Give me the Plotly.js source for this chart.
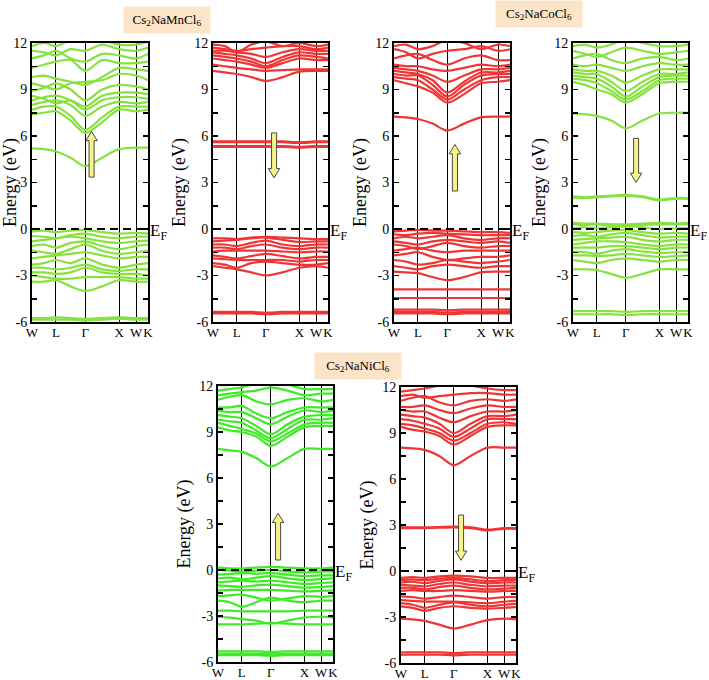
<!DOCTYPE html>
<html>
<head>
<meta charset="utf-8">
<script src="https://cdn.plot.ly/plotly-3.0.1.min.js"></script>
<style>html,body{margin:0;padding:0;background:#fff}#chart{width:709px;height:680px}</style>
</head>
<body>
<div id="chart"></div>
<script>
// k-path positions: W, (W-L), L, (L-Γ), Γ, (Γ-X), X, W, K
const kPos = [0, 0.354, 0.707, 1.14, 1.573, 2.073, 2.573, 3.073, 3.427];
const kTickVals = [0, 0.707, 1.573, 2.573, 3.073, 3.427];
const kTickText = ['W', 'L', 'Γ', 'X', 'W', 'K'];
const energyTickVals = [-6, -3, 0, 3, 6, 9, 12];
const energyTickText = ['-6', '-3', '0', '3', '6', '9', '12'];
const compoundLabels = ['Cs<sub>2</sub>NaMnCl<sub>6</sub>', 'Cs<sub>2</sub>NaCoCl<sub>6</sub>', 'Cs<sub>2</sub>NaNiCl<sub>6</sub>'];

// Cs2NaMnCl6 spin up (green)
const mnUpBands = [
  [5.2, 5.15, 5.0, 4.6, 4.05, 4.6, 5.15, 5.25, 5.25],
  [7.4, 7.5, 7.6, 7.0, 6.2, 6.9, 7.7, 7.6, 7.7],
  [7.7, 7.9, 7.9, 7.3, 6.4, 7.2, 7.9, 7.9, 7.9],
  [8.0, 8.2, 8.3, 8.0, 7.3, 7.9, 8.2, 8.1, 8.2],
  [8.3, 8.5, 8.6, 8.3, 7.7, 8.3, 8.5, 8.5, 8.4],
  [8.6, 8.4, 8.1, 8.3, 7.9, 8.6, 8.8, 8.8, 8.7],
  [8.9, 9.1, 9.4, 9.0, 8.3, 9.0, 9.3, 9.2, 9.0],
  [9.4, 9.2, 9.0, 9.4, 9.5, 9.6, 10.0, 9.9, 9.6],
  [9.8, 9.9, 9.7, 9.5, 9.3, 9.8, 10.4, 10.3, 10.2],
  [10.4, 10.6, 10.8, 10.9, 10.2, 10.9, 10.7, 10.7, 10.8],
  [11.0, 11.2, 11.5, 11.0, 10.8, 11.3, 11.2, 11.0, 11.3],
  [11.5, 11.4, 11.2, 11.6, 11.5, 11.9, 11.6, 11.5, 11.7],
  [11.8, 12.0, 11.8, 12.2, 12.3, 12.2, 11.9, 11.9, 12.1],
  [-0.15, -0.1, -0.2, -0.1, -0.05, -0.2, -0.3, -0.25, -0.3],
  [-0.45, -0.5, -0.6, -0.4, -0.3, -0.5, -0.6, -0.5, -0.5],
  [-0.8, -0.7, -0.6, -0.5, -0.6, -0.8, -0.9, -0.8, -0.75],
  [-1.1, -1.0, -1.2, -0.9, -0.8, -1.1, -1.3, -1.1, -1.0],
  [-1.4, -1.5, -1.6, -1.3, -1.0, -1.4, -1.6, -1.5, -1.4],
  [-1.9, -1.8, -1.7, -1.6, -1.5, -1.7, -1.9, -1.8, -1.8],
  [-2.3, -2.2, -2.0, -2.2, -1.9, -2.3, -2.5, -2.3, -2.2],
  [-2.5, -2.5, -2.6, -2.5, -2.3, -2.6, -2.7, -2.6, -2.6],
  [-2.8, -2.8, -2.9, -2.8, -2.5, -2.8, -2.9, -2.9, -3.0],
  [-3.0, -3.1, -3.2, -3.2, -3.1, -3.1, -3.1, -3.2, -3.2],
  [-3.4, -3.4, -3.3, -3.7, -4.0, -3.7, -3.3, -3.4, -3.4],
  [-5.75, -5.75, -5.7, -5.75, -5.8, -5.75, -5.7, -5.75, -5.75],
  [-5.85, -5.85, -5.85, -5.85, -5.9, -5.85, -5.8, -5.85, -5.85]
];

// Cs2NaMnCl6 spin down (red)
const mnDnBands = [
  [10.2, 10.1, 10.0, 9.8, 9.55, 9.8, 10.15, 10.2, 10.2],
  [10.6, 10.5, 10.4, 10.3, 10.2, 10.25, 10.3, 10.3, 10.3],
  [11.0, 10.9, 10.8, 10.6, 10.4, 10.7, 11.0, 10.9, 10.9],
  [11.2, 11.1, 11.0, 10.8, 10.5, 10.9, 11.2, 11.1, 11.0],
  [11.4, 11.3, 11.2, 11.0, 10.7, 11.1, 11.4, 11.3, 11.3],
  [11.5, 11.5, 11.4, 11.3, 11.1, 11.4, 11.6, 11.5, 11.5],
  [11.7, 11.6, 11.5, 11.6, 11.7, 11.8, 11.8, 11.6, 11.7],
  [11.9, 11.8, 11.4, 11.9, 12.1, 11.8, 12.0, 11.8, 11.9],
  [5.65, 5.65, 5.65, 5.65, 5.65, 5.65, 5.6, 5.65, 5.65],
  [5.6, 5.6, 5.6, 5.6, 5.6, 5.6, 5.55, 5.6, 5.6],
  [5.35, 5.35, 5.35, 5.35, 5.35, 5.35, 5.3, 5.35, 5.35],
  [5.3, 5.3, 5.3, 5.3, 5.3, 5.3, 5.25, 5.3, 5.3],
  [-0.6, -0.6, -0.65, -0.55, -0.5, -0.55, -0.6, -0.65, -0.65],
  [-0.8, -0.75, -0.7, -0.6, -0.55, -0.7, -0.85, -0.8, -0.8],
  [-1.0, -1.0, -1.1, -0.9, -0.75, -1.0, -1.1, -1.0, -1.0],
  [-1.2, -1.2, -1.3, -1.1, -1.0, -1.2, -1.3, -1.2, -1.2],
  [-1.45, -1.4, -1.4, -1.4, -1.4, -1.45, -1.5, -1.45, -1.45],
  [-1.7, -1.8, -1.9, -1.75, -1.6, -1.75, -1.9, -1.8, -1.8],
  [-1.9, -1.95, -2.0, -2.0, -2.0, -2.0, -2.1, -2.0, -2.0],
  [-2.2, -2.3, -2.5, -2.2, -2.1, -2.2, -2.3, -2.3, -2.2],
  [-2.4, -2.5, -2.6, -2.8, -3.0, -2.8, -2.5, -2.4, -2.5],
  [-5.35, -5.35, -5.35, -5.35, -5.4, -5.35, -5.35, -5.35, -5.35],
  [-5.45, -5.45, -5.45, -5.45, -5.5, -5.45, -5.45, -5.45, -5.45]
];

// Cs2NaCoCl6 spin up (red)
const coUpBands = [
  [7.25, 7.2, 7.1, 6.8, 6.35, 6.8, 7.2, 7.25, 7.25],
  [9.6, 9.4, 9.2, 8.8, 8.15, 8.7, 9.4, 9.5, 9.6],
  [9.8, 9.7, 9.6, 9.0, 8.35, 9.0, 9.6, 9.8, 9.8],
  [10.0, 9.9, 9.9, 9.3, 8.55, 9.3, 9.9, 10.0, 10.0],
  [10.2, 10.1, 10.0, 9.6, 8.8, 9.5, 10.1, 10.1, 10.2],
  [10.4, 10.3, 10.2, 9.9, 9.5, 9.9, 10.3, 10.3, 10.4],
  [10.6, 10.5, 10.5, 10.3, 10.2, 10.4, 10.6, 10.5, 10.6],
  [11.0, 11.2, 11.3, 10.9, 10.6, 11.0, 11.2, 10.9, 10.9],
  [11.6, 11.4, 11.0, 11.3, 11.5, 11.6, 11.8, 11.5, 11.6],
  [11.8, 11.9, 11.6, 11.8, 12.2, 12.0, 11.6, 11.9, 11.8],
  [-0.15, -0.1, -0.05, -0.1, -0.1, -0.15, -0.2, -0.2, -0.25],
  [-0.35, -0.4, -0.3, -0.25, -0.3, -0.35, -0.4, -0.4, -0.4],
  [-0.6, -0.5, -0.6, -0.5, -0.4, -0.6, -0.7, -0.6, -0.6],
  [-0.8, -0.9, -1.0, -0.8, -0.7, -0.8, -0.9, -0.8, -0.9],
  [-1.0, -1.1, -1.3, -1.1, -0.9, -1.1, -1.2, -1.1, -1.1],
  [-1.4, -1.3, -1.2, -1.4, -1.5, -1.4, -1.4, -1.4, -1.4],
  [-1.7, -1.6, -1.5, -1.8, -2.0, -1.9, -1.8, -1.8, -1.7],
  [-2.0, -2.1, -2.3, -2.2, -2.0, -2.1, -2.2, -2.1, -2.0],
  [-2.4, -2.5, -2.6, -2.4, -2.3, -2.4, -2.5, -2.4, -2.4],
  [-2.75, -2.8, -2.85, -3.1, -3.3, -3.1, -2.8, -2.75, -2.75],
  [-3.9, -3.9, -3.9, -3.9, -3.9, -3.9, -3.9, -3.9, -3.9],
  [-4.45, -4.45, -4.45, -4.45, -4.45, -4.45, -4.45, -4.45, -4.45],
  [-5.2, -5.2, -5.2, -5.2, -5.25, -5.2, -5.2, -5.2, -5.2],
  [-5.35, -5.35, -5.35, -5.35, -5.4, -5.35, -5.35, -5.35, -5.35],
  [-5.45, -5.45, -5.45, -5.45, -5.5, -5.45, -5.45, -5.45, -5.45]
];

// Cs2NaCoCl6 spin down (green)
const coDnBands = [
  [7.45, 7.4, 7.3, 7.0, 6.5, 7.0, 7.45, 7.5, 7.5],
  [9.5, 9.3, 9.0, 8.7, 8.15, 8.7, 9.4, 9.5, 9.5],
  [9.7, 9.6, 9.4, 8.9, 8.35, 8.9, 9.6, 9.7, 9.7],
  [9.9, 9.8, 9.7, 9.2, 8.55, 9.2, 9.8, 9.9, 9.9],
  [10.1, 10.0, 10.0, 9.5, 8.9, 9.5, 10.0, 10.0, 10.1],
  [10.3, 10.2, 10.2, 9.9, 9.45, 9.9, 10.3, 10.3, 10.3],
  [10.6, 10.5, 10.6, 10.4, 10.2, 10.5, 10.7, 10.6, 10.6],
  [11.0, 11.2, 11.3, 10.9, 10.7, 11.0, 11.1, 10.9, 11.0],
  [11.5, 11.3, 11.1, 11.4, 11.7, 11.5, 11.3, 11.4, 11.5],
  [11.8, 11.9, 11.7, 11.9, 12.3, 12.0, 11.8, 11.8, 11.9],
  [2.1, 2.05, 2.1, 2.15, 2.2, 2.1, 1.9, 2.0, 2.0],
  [2.0, 2.0, 2.05, 2.1, 2.15, 2.05, 1.85, 1.95, 1.95],
  [0.4, 0.35, 0.35, 0.3, 0.3, 0.35, 0.4, 0.35, 0.4],
  [0.3, 0.25, 0.3, 0.2, 0.15, 0.25, 0.3, 0.3, 0.3],
  [0.05, 0.1, 0.05, 0.1, 0.2, 0.1, 0.0, 0.05, 0.05],
  [-0.2, -0.25, -0.2, -0.1, -0.05, -0.2, -0.3, -0.25, -0.3],
  [-0.45, -0.4, -0.5, -0.35, -0.25, -0.4, -0.55, -0.5, -0.5],
  [-0.7, -0.65, -0.6, -0.55, -0.5, -0.7, -0.8, -0.7, -0.7],
  [-1.0, -0.9, -0.8, -0.8, -0.85, -1.0, -1.1, -1.0, -1.0],
  [-1.2, -1.2, -1.2, -1.1, -1.1, -1.2, -1.3, -1.2, -1.2],
  [-1.45, -1.5, -1.6, -1.4, -1.3, -1.45, -1.55, -1.5, -1.45],
  [-1.7, -1.7, -1.75, -1.7, -1.6, -1.7, -1.8, -1.75, -1.7],
  [-2.0, -2.1, -2.2, -2.0, -1.9, -2.0, -2.1, -2.0, -2.0],
  [-2.6, -2.6, -2.65, -2.9, -3.15, -2.9, -2.6, -2.6, -2.6],
  [-5.3, -5.3, -5.3, -5.3, -5.35, -5.3, -5.3, -5.3, -5.3],
  [-5.5, -5.5, -5.5, -5.5, -5.55, -5.5, -5.5, -5.5, -5.5]
];

// Cs2NaNiCl6 spin up (green)
const niUpBands = [
  [7.9, 7.8, 7.7, 7.3, 6.75, 7.3, 7.9, 7.9, 7.9],
  [9.3, 9.1, 9.0, 8.7, 8.1, 8.7, 9.3, 9.4, 9.4],
  [9.6, 9.4, 9.2, 8.9, 8.4, 8.9, 9.5, 9.6, 9.6],
  [9.8, 9.7, 9.6, 9.1, 8.6, 9.2, 9.8, 9.8, 9.9],
  [10.1, 10.0, 9.9, 9.4, 8.85, 9.5, 10.0, 10.1, 10.1],
  [10.4, 10.3, 10.3, 9.9, 9.5, 10.0, 10.4, 10.3, 10.4],
  [10.6, 10.6, 10.7, 10.2, 9.9, 10.3, 10.6, 10.6, 10.6],
  [11.1, 11.3, 11.4, 11.0, 10.8, 11.1, 11.2, 11.0, 11.1],
  [11.4, 11.5, 11.6, 11.7, 11.9, 11.7, 11.4, 11.5, 11.5],
  [11.7, 11.8, 11.9, 12.2, 12.4, 12.1, 11.8, 11.8, 11.8],
  [0.15, 0.1, 0.1, 0.15, 0.2, 0.15, 0.1, 0.1, 0.15],
  [0.0, -0.05, -0.1, -0.05, 0.0, -0.1, -0.15, -0.1, -0.1],
  [-0.3, -0.25, -0.2, -0.25, -0.2, -0.3, -0.4, -0.35, -0.35],
  [-0.55, -0.5, -0.6, -0.5, -0.4, -0.55, -0.65, -0.6, -0.55],
  [-0.8, -0.75, -0.7, -0.75, -0.7, -0.8, -0.9, -0.85, -0.8],
  [-1.0, -1.05, -1.1, -1.0, -0.95, -1.05, -1.15, -1.1, -1.05],
  [-1.35, -1.3, -1.3, -1.3, -1.3, -1.35, -1.4, -1.35, -1.35],
  [-1.7, -1.65, -1.6, -1.8, -2.0, -1.85, -1.7, -1.75, -1.7],
  [-2.0, -2.1, -2.4, -2.1, -1.8, -2.0, -2.1, -2.0, -2.0],
  [-2.65, -2.65, -2.7, -2.7, -2.7, -2.7, -2.65, -2.65, -2.65],
  [-3.05, -3.1, -3.2, -3.3, -3.5, -3.3, -3.1, -3.05, -3.1],
  [-3.55, -3.55, -3.55, -3.5, -3.45, -3.5, -3.55, -3.55, -3.55],
  [-5.3, -5.3, -5.3, -5.3, -5.35, -5.3, -5.3, -5.3, -5.3],
  [-5.45, -5.45, -5.45, -5.45, -5.5, -5.45, -5.45, -5.45, -5.45],
  [-5.55, -5.55, -5.55, -5.55, -5.6, -5.55, -5.55, -5.55, -5.55]
];

// Cs2NaNiCl6 spin down (red)
const niDnBands = [
  [8.05, 8.0, 7.9, 7.5, 6.9, 7.5, 8.05, 8.05, 8.05],
  [9.4, 9.2, 9.1, 8.8, 8.25, 8.8, 9.4, 9.5, 9.5],
  [9.6, 9.5, 9.3, 9.0, 8.5, 9.0, 9.6, 9.7, 9.6],
  [9.9, 9.8, 9.6, 9.3, 8.75, 9.3, 9.9, 9.9, 9.9],
  [10.2, 10.1, 10.0, 9.6, 9.0, 9.6, 10.1, 10.1, 10.2],
  [10.5, 10.4, 10.4, 10.0, 9.7, 10.1, 10.4, 10.4, 10.5],
  [10.7, 10.7, 10.8, 10.5, 10.3, 10.6, 10.8, 10.7, 10.7],
  [11.1, 11.3, 11.4, 11.0, 10.8, 11.1, 11.2, 11.1, 11.2],
  [11.4, 11.5, 11.3, 11.4, 11.5, 11.6, 11.6, 11.5, 11.5],
  [11.7, 11.8, 11.9, 12.1, 12.3, 12.1, 11.9, 11.8, 11.8],
  [2.85, 2.85, 2.85, 2.87, 2.9, 2.85, 2.7, 2.8, 2.8],
  [2.8, 2.8, 2.8, 2.82, 2.85, 2.8, 2.65, 2.75, 2.75],
  [-0.45, -0.4, -0.45, -0.35, -0.3, -0.35, -0.45, -0.45, -0.45],
  [-0.6, -0.55, -0.6, -0.5, -0.45, -0.55, -0.65, -0.6, -0.6],
  [-0.75, -0.7, -0.8, -0.65, -0.55, -0.7, -0.8, -0.75, -0.75],
  [-0.9, -0.95, -1.0, -0.85, -0.75, -0.9, -1.0, -0.95, -0.95],
  [-1.1, -1.1, -1.2, -1.05, -0.95, -1.1, -1.2, -1.15, -1.1],
  [-1.3, -1.25, -1.3, -1.3, -1.25, -1.3, -1.35, -1.3, -1.3],
  [-1.65, -1.7, -1.8, -1.7, -1.6, -1.7, -1.8, -1.7, -1.7],
  [-1.9, -1.95, -2.0, -2.0, -2.0, -2.05, -2.1, -2.0, -1.95],
  [-2.1, -2.2, -2.4, -2.2, -2.05, -2.2, -2.3, -2.2, -2.15],
  [-2.3, -2.4, -2.6, -2.4, -2.3, -2.4, -2.45, -2.4, -2.35],
  [-3.1, -3.15, -3.25, -3.5, -3.75, -3.5, -3.2, -3.1, -3.15],
  [-5.3, -5.3, -5.3, -5.3, -5.35, -5.3, -5.3, -5.3, -5.3],
  [-5.45, -5.45, -5.45, -5.45, -5.5, -5.45, -5.45, -5.45, -5.45]
];

// ---- layout / style (not data) ----
const W = 709, H = 680;
const GREEN_TOP = '#86E23C', GREEN_BOT = '#3FEA26', RED = '#EF3535';
const SERIF = 'Liberation Serif, Times New Roman, serif';
function px2x(p) { return p / W; }
function px2y(p) { return 1 - p / H; }

const panels = [
  { bands: mnUpBands, color: GREEN_TOP, box: [32, 148, 43, 322], arrow: { x: 1.76, from: 3.35, to: 6.3 } },
  { bands: mnDnBands, color: RED,       box: [213, 328, 43, 322], arrow: { x: 1.82, from: 6.2, to: 3.3 } },
  { bands: coUpBands, color: RED,       box: [394, 510, 43, 322], arrow: { x: 1.80, from: 2.45, to: 5.45 } },
  { bands: coDnBands, color: GREEN_TOP, box: [573, 688, 43, 322], arrow: { x: 1.88, from: 5.85, to: 3.0 } },
  { bands: niUpBands, color: GREEN_BOT, box: [218, 333, 386, 662], arrow: { x: 1.79, from: 0.65, to: 3.7 } },
  { bands: niDnBands, color: RED,       box: [401, 516, 387, 663], arrow: { x: 1.79, from: 3.65, to: 0.7 } }
];

const traces = [];
const layout = {
  width: W, height: H,
  margin: { l: 0, r: 0, t: 0, b: 0 },
  paper_bgcolor: '#fff', plot_bgcolor: '#fff',
  showlegend: false,
  shapes: [], annotations: []
};

function arrowPath(a) {
  const hw = 0.075, hhw = 0.17, hl = 0.6;
  const dir = a.to > a.from ? 1 : -1;
  const neck = a.to - dir * hl;
  const x = a.x;
  return `M ${x - hw},${a.from} L ${x + hw},${a.from} L ${x + hw},${neck} L ${x + hhw},${neck} L ${x},${a.to} L ${x - hhw},${neck} L ${x - hw},${neck} Z`;
}

panels.forEach((p, i) => {
  const n = i + 1;
  const xa = 'x' + n, ya = 'y' + n;
  p.bands.forEach(b => {
    traces.push({
      type: 'scatter', mode: 'lines', x: kPos, y: b,
      xaxis: xa, yaxis: ya, hoverinfo: 'skip', showlegend: false,
      line: { color: p.color, width: 2.2, shape: 'spline', smoothing: 0.9 }
    });
  });
  const [l, r, t, bt] = p.box;
  layout['xaxis' + n] = {
    domain: [px2x(l), px2x(r)], anchor: ya, range: [0, 3.427],
    tickmode: 'array', tickvals: kTickVals, ticktext: kTickText, tickangle: 0,
    ticks: '', ticklabelstandoff: -3, showgrid: true, gridcolor: '#000', gridwidth: 1, zeroline: false,
    showline: true, linecolor: '#000', linewidth: 2, mirror: true,
    tickfont: { family: SERIF, size: 13, color: '#000' }, fixedrange: true
  };
  layout['yaxis' + n] = {
    domain: [px2y(bt), px2y(t)], anchor: xa, range: [-6, 12],
    tickmode: 'array', tickvals: energyTickVals, ticktext: energyTickText,
    ticks: 'inside', ticklen: 5, tickwidth: 1.5, tickcolor: '#000',
    minor: { dtick: 1.5, tick0: -6, ticks: 'inside', ticklen: 5, tickwidth: 1.5, tickcolor: '#000', showgrid: false },
    showgrid: false, zeroline: false,
    showline: true, linecolor: '#000', linewidth: 2, mirror: 'allticks',
    tickfont: { family: SERIF, size: 14, color: '#000' },
    title: { text: 'Energy (eV)', font: { family: SERIF, size: 18, color: '#000' }, standoff: 4 },
    fixedrange: true
  };
  // Fermi level
  layout.shapes.push({
    type: 'line', xref: xa + ' domain', yref: ya, x0: 0, x1: 1, y0: 0, y1: 0,
    line: { color: '#000', width: 2, dash: '8px,5px' }, layer: 'above'
  });
  // spin arrow
  layout.shapes.push({
    type: 'path', xref: xa, yref: ya, path: arrowPath(p.arrow),
    fillcolor: '#F7F28A', line: { color: '#4a4a3a', width: 1 }, layer: 'above'
  });
  layout.annotations.push({
    xref: xa + ' domain', yref: ya, x: 1, y: 0, xanchor: 'left', yanchor: 'middle',
    xshift: 0, yshift: -3, showarrow: false, text: 'E<sub>F</sub>',
    font: { family: SERIF, size: 17, color: '#000' }
  });
});

// compound labels
[[167, 20], [539, 14], [358, 366]].forEach((c, i) => {
  layout.annotations.push({
    xref: 'paper', yref: 'paper', x: px2x(c[0]), y: px2y(c[1]),
    xanchor: 'center', yanchor: 'middle', showarrow: false,
    text: compoundLabels[i], width: 84, height: 24, bgcolor: '#FBE4C8',
    font: { family: SERIF, size: 13, color: '#000' }
  });
});

Plotly.newPlot('chart', traces, layout, { staticPlot: true, displayModeBar: false });
</script>
</body>
</html>
